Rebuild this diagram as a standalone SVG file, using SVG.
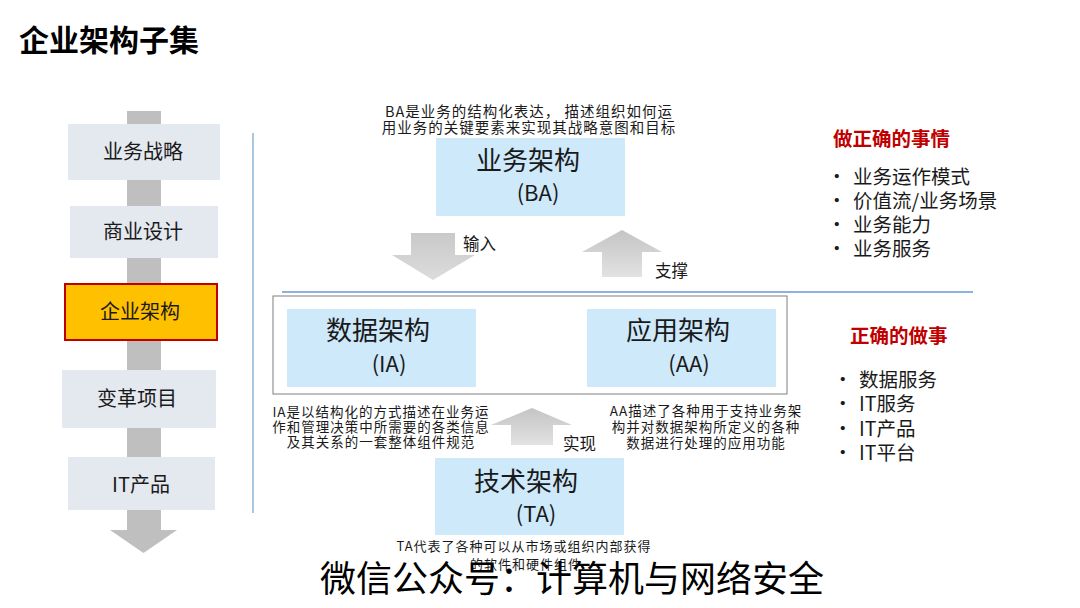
<svg xmlns="http://www.w3.org/2000/svg" width="1080" height="608" viewBox="0 0 1080 608">
<defs>
<linearGradient id="gDown" x1="0" y1="0" x2="0" y2="1"><stop offset="0" stop-color="#C9C9C9"/><stop offset="1" stop-color="#DCDCDC"/></linearGradient>
<linearGradient id="gUp" x1="0" y1="0" x2="0" y2="1"><stop offset="0" stop-color="#C4C4C4"/><stop offset="1" stop-color="#E2E2E2"/></linearGradient>
<style>
text{font-family:"Noto Sans CJK SC","Microsoft YaHei",sans-serif;fill:#1a1a1a}
.lbox{fill:#E4E8EF}
.ltxt{font-size:20px;text-anchor:middle}
.abox{fill:#CDE9FA}
.big{font-size:26px;text-anchor:middle}
.mid{font-size:22px;text-anchor:middle}
.desc{font-size:13.5px;letter-spacing:1px;text-anchor:middle}
.lab{font-size:16.5px}
.red{font-size:19.5px;font-weight:700;fill:#C00000}
.item{font-size:19.5px}
.arr{fill:url(#gDown)}
.arrU{fill:url(#gUp)}
.bline{stroke:#8DB3DD;fill:none}
</style>
</defs>
<rect width="1080" height="608" fill="#FFFFFF"/>
<text x="19" y="51" style="font-size:30px;font-weight:700;fill:#000">企业架构子集</text>

<g id="flow-bar">
<rect x="127" y="111" width="34" height="420" fill="#BFBFBF"/>
<path d="M110,530 L177,530 L143.5,553 Z" fill="#BFBFBF"/>
</g>
<g id="n-strategy"><rect class="lbox" x="68" y="124" width="152" height="56"/><text class="ltxt" x="143" y="159">业务战略</text></g>
<g id="n-design"><rect class="lbox" x="70" y="206" width="148" height="52"/><text class="ltxt" x="143" y="239">商业设计</text></g>
<g id="n-ea"><rect x="65" y="284" width="152" height="56" fill="#FFC000" stroke="#C00000" stroke-width="2"/><text class="ltxt" x="140" y="319">企业架构</text></g>
<g id="n-change"><rect class="lbox" x="62" y="370" width="154" height="58"/><text class="ltxt" x="137" y="406">变革项目</text></g>
<g id="n-it"><rect class="lbox" x="68" y="457" width="147" height="53"/><text class="ltxt" x="141" y="492">IT产品</text></g>

<line class="bline" x1="253" y1="133" x2="253" y2="513" stroke-width="1.5"/>
<line class="bline" x1="282" y1="292" x2="973" y2="292" stroke-width="2"/>

<g id="n-ba">
<text class="desc" x="529" y="117" style="font-size:14.5px">BA是业务的结构化表达， 描述组织如何运</text>
<text class="desc" x="529" y="133" style="font-size:14.5px">用业务的关键要素来实现其战略意图和目标</text>
<rect class="abox" x="436" y="138" width="189" height="78"/>
<text class="big" x="528" y="170">业务架构</text>
<text class="mid" x="538" y="201">(BA)</text>
</g>

<g id="n-container"><rect x="273" y="296" width="514" height="98" fill="none" stroke="#7F7F7F" stroke-width="1"/></g>

<g id="n-ia">
<rect class="abox" x="287" y="309" width="189" height="78"/>
<text class="big" x="378" y="340">数据架构</text>
<text class="mid" x="389" y="372">(IA)</text>
<text class="desc" x="381" y="417">IA是以结构化的方式描述在业务运</text>
<text class="desc" x="381" y="432">作和管理决策中所需要的各类信息</text>
<text class="desc" x="381" y="447">及其关系的一套整体组件规范</text>
</g>

<g id="n-aa">
<rect class="abox" x="587" y="309" width="189" height="78"/>
<text class="big" x="678" y="340">应用架构</text>
<text class="mid" x="689" y="372">(AA)</text>
<text class="desc" x="706" y="416">AA描述了各种用于支持业务架</text>
<text class="desc" x="706" y="432">构并对数据架构所定义的各种</text>
<text class="desc" x="706" y="448">数据进行处理的应用功能</text>
</g>

<g id="n-ta">
<rect class="abox" x="435" y="458" width="189" height="77"/>
<text class="big" x="526" y="491">技术架构</text>
<text class="mid" x="536" y="522">(TA)</text>
<text class="desc" x="524" y="551" style="font-size:13px">TA代表了各种可以从市场或组织内部获得</text>
<text class="desc" x="526" y="569" style="font-size:13px">的软件和硬件组件</text>
</g>

<g id="connectors">
<path class="arr" d="M411,233 L455,233 L455,255 L475,255 L433,280 L392,255 L411,255 Z"/>
<text class="lab" x="463" y="250">输入</text>
<path class="arrU" d="M622,230 L662,252 L642,252 L642,277 L602,277 L602,252 L582,252 Z"/>
<text class="lab" x="655" y="277">支撑</text>
<path class="arrU" d="M532,408 L572,425 L553,425 L553,445 L511,445 L511,425 L491,425 Z"/>
<text class="lab" x="563" y="450">实现</text>
</g>

<g id="n-right-top">
<text class="red" x="833" y="146">做正确的事情</text>
<text class="item" x="827" y="184">•</text><text class="item" x="853" y="184">业务运作模式</text>
<text class="item" x="827" y="208">•</text><text class="item" x="853" y="208">价值流/业务场景</text>
<text class="item" x="827" y="232">•</text><text class="item" x="853" y="232">业务能力</text>
<text class="item" x="827" y="256">•</text><text class="item" x="853" y="256">业务服务</text>
</g>

<g id="n-right-bottom">
<text class="red" x="850" y="343">正确的做事</text>
<text class="item" x="833" y="387">•</text><text class="item" x="859" y="387">数据服务</text>
<text class="item" x="833" y="411">•</text><text class="item" x="859" y="411">IT服务</text>
<text class="item" x="833" y="436">•</text><text class="item" x="859" y="436">IT产品</text>
<text class="item" x="833" y="460">•</text><text class="item" x="859" y="460">IT平台</text>
</g>

<text x="320" y="592" style="font-size:36px;fill:#000">微信公众号：计算机与网络安全</text>
</svg>
